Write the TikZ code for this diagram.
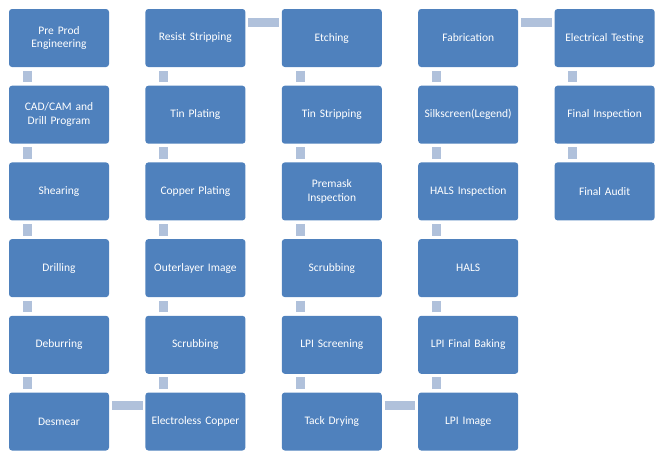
\documentclass[tikz,border=0pt]{standalone}
\usepackage{fontspec}
\setmainfont{Carlito}
\usepackage{tikz}
\usetikzlibrary{
  positioning,
  calc,
}
\definecolor{procblue}{HTML}{4F81BD}
\definecolor{linkblue}{HTML}{B0C1DB}

\begin{document}
\begin{tikzpicture}[
    x=1pt, y=-1pt,
    procbox/.style={rectangle, rounded corners=3pt, fill=procblue, text=white,
                    minimum width=100pt, minimum height=58pt, text width=96pt,
                    align=center, inner sep=0pt,
                    font=\fontsize{11.5}{13.5}\selectfont},
    vlink/.style={draw=linkblue, line width=9pt, line cap=butt,
                  shorten <=3.3pt, shorten >=3.3pt},
    hlink/.style={draw=linkblue, line width=9pt, line cap=butt,
                  shorten <=2.6pt, shorten >=2.6pt},
  ]
  \useasboundingbox (0,0) rectangle (666,463);

  % column 1
  \node[procbox] (preprod)  at (59,38)    {Pre Prod\\Engineering};
  \node[procbox] (cadcam)   at (59,114.7) {CAD/CAM and\\Drill Program};
  \node[procbox] (shear)    at (59,191.4) {Shearing};
  \node[procbox] (drill)    at (59,268.1) {Drilling};
  \node[procbox] (deburr)   at (59,344.8) {Deburring};
  \node[procbox] (desmear)  at (59,421.5) {Desmear};

  % column 2
  \node[procbox] (resist)   at (195.4,38)    {Resist Stripping};
  \node[procbox] (tinplate) at (195.4,114.7) {Tin Plating};
  \node[procbox] (copper)   at (195.4,191.4) {Copper Plating};
  \node[procbox] (outer)    at (195.4,268.1) {Outerlayer Image};
  \node[procbox] (scrubA)   at (195.4,344.8) {Scrubbing};
  \node[procbox] (eless)    at (195.4,421.5) {Electroless Copper};

  % column 3
  \node[procbox] (etch)     at (331.8,38)    {Etching};
  \node[procbox] (tinstrip) at (331.8,114.7) {Tin Stripping};
  \node[procbox] (premask)  at (331.8,191.4) {Premask\\Inspection};
  \node[procbox] (scrubB)   at (331.8,268.1) {Scrubbing};
  \node[procbox] (lpiscr)   at (331.8,344.8) {LPI Screening};
  \node[procbox] (tack)     at (331.8,421.5) {Tack Drying};

  % column 4
  \node[procbox] (fab)      at (468.2,38)    {Fabrication};
  \node[procbox] (silk)     at (468.2,114.7) {Silkscreen(Legend)};
  \node[procbox] (halsinsp) at (468.2,191.4) {HALS Inspection};
  \node[procbox] (hals)     at (468.2,268.1) {HALS};
  \node[procbox] (lpibake)  at (468.2,344.8) {LPI Final Baking};
  \node[procbox] (lpiimg)   at (468.2,421.5) {LPI Image};

  % column 5
  \node[procbox] (etest)    at (604.6,38)    {Electrical Testing};
  \node[procbox] (finsp)    at (604.6,114.7) {Final Inspection};
  \node[procbox] (faudit)   at (604.6,191.4) {Final Audit};

  % vertical links
  \draw[vlink] ([xshift=18.5pt]preprod.south west) -- ([xshift=18.5pt]cadcam.north west);
  \draw[vlink] ([xshift=18.5pt]cadcam.south west)  -- ([xshift=18.5pt]shear.north west);
  \draw[vlink] ([xshift=18.5pt]shear.south west)   -- ([xshift=18.5pt]drill.north west);
  \draw[vlink] ([xshift=18.5pt]drill.south west)   -- ([xshift=18.5pt]deburr.north west);
  \draw[vlink] ([xshift=18.5pt]deburr.south west)  -- ([xshift=18.5pt]desmear.north west);

  \draw[vlink] ([xshift=18.5pt]eless.north west)    -- ([xshift=18.5pt]scrubA.south west);
  \draw[vlink] ([xshift=18.5pt]scrubA.north west)   -- ([xshift=18.5pt]outer.south west);
  \draw[vlink] ([xshift=18.5pt]outer.north west)    -- ([xshift=18.5pt]copper.south west);
  \draw[vlink] ([xshift=18.5pt]copper.north west)   -- ([xshift=18.5pt]tinplate.south west);
  \draw[vlink] ([xshift=18.5pt]tinplate.north west) -- ([xshift=18.5pt]resist.south west);

  \draw[vlink] ([xshift=18.5pt]etch.south west)     -- ([xshift=18.5pt]tinstrip.north west);
  \draw[vlink] ([xshift=18.5pt]tinstrip.south west) -- ([xshift=18.5pt]premask.north west);
  \draw[vlink] ([xshift=18.5pt]premask.south west)  -- ([xshift=18.5pt]scrubB.north west);
  \draw[vlink] ([xshift=18.5pt]scrubB.south west)   -- ([xshift=18.5pt]lpiscr.north west);
  \draw[vlink] ([xshift=18.5pt]lpiscr.south west)   -- ([xshift=18.5pt]tack.north west);

  \draw[vlink] ([xshift=18.5pt]lpiimg.north west)   -- ([xshift=18.5pt]lpibake.south west);
  \draw[vlink] ([xshift=18.5pt]lpibake.north west)  -- ([xshift=18.5pt]hals.south west);
  \draw[vlink] ([xshift=18.5pt]hals.north west)     -- ([xshift=18.5pt]halsinsp.south west);
  \draw[vlink] ([xshift=18.5pt]halsinsp.north west) -- ([xshift=18.5pt]silk.south west);
  \draw[vlink] ([xshift=18.5pt]silk.north west)     -- ([xshift=18.5pt]fab.south west);

  \draw[vlink] ([xshift=18.5pt]etest.south west) -- ([xshift=18.5pt]finsp.north west);
  \draw[vlink] ([xshift=18.5pt]finsp.south west) -- ([xshift=18.5pt]faudit.north west);

  % horizontal links
  \draw[hlink] ([yshift=-13.5pt]desmear.north east) -- ([yshift=-13.5pt]eless.north west);
  \draw[hlink] ([yshift=-13.5pt]resist.north east)  -- ([yshift=-13.5pt]etch.north west);
  \draw[hlink] ([yshift=-13.5pt]tack.north east)    -- ([yshift=-13.5pt]lpiimg.north west);
  \draw[hlink] ([yshift=-13.5pt]fab.north east)     -- ([yshift=-13.5pt]etest.north west);
\end{tikzpicture}
\end{document}
